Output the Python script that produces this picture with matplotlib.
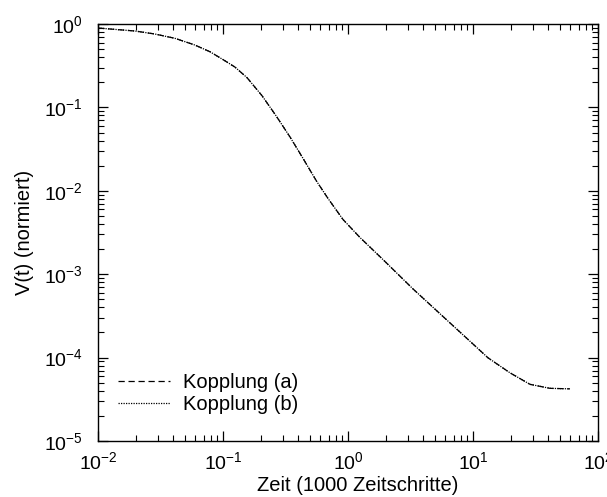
import matplotlib
matplotlib.use("Agg")
import matplotlib.pyplot as plt
from matplotlib.ticker import LogLocator, NullFormatter

plt.rcParams['font.family'] = ['Liberation Sans', 'DejaVu Sans']
plt.rcParams['mathtext.fontset'] = 'custom'
plt.rcParams['mathtext.rm'] = 'Liberation Sans'
plt.rcParams['mathtext.it'] = 'Liberation Sans'
plt.rcParams['mathtext.default'] = 'regular'

# Time (in 1000 steps)
t = [0.01, 0.01977, 0.02858, 0.0413, 0.0597, 0.0787, 0.1, 0.1247, 0.1556, 0.2051,
     0.2655, 0.3436, 0.4365, 0.5617, 0.6918, 0.912, 1.247, 1.905, 3.311, 5.754,
     9.462, 13.18, 19.77, 28.58, 41.3, 59.7]
# Normalized V(t), coupling (a)
v_a = [0.895, 0.824, 0.758, 0.673, 0.559, 0.465, 0.3745, 0.3042, 0.2275, 0.1382,
       0.0795, 0.0442, 0.0245, 0.01297, 0.0081, 0.00453, 0.002754, 0.001498,
       6.66e-4, 3.11e-4, 1.57e-4, 9.94e-5, 6.57e-5, 4.78e-5, 4.28e-5, 4.22e-5]
# Normalized V(t), coupling (b)
v_b = [0.895, 0.824, 0.758, 0.673, 0.559, 0.465, 0.3745, 0.3042, 0.2275, 0.1382,
       0.0795, 0.0442, 0.0245, 0.01297, 0.0081, 0.00453, 0.002754, 0.001498,
       6.66e-4, 3.11e-4, 1.57e-4, 9.94e-5, 6.57e-5, 4.78e-5, 4.28e-5, 4.22e-5]

labels = ["Kopplung (a)", "Kopplung (b)"]

W, H = 607, 497
fig = plt.figure(figsize=(W / 100, H / 100), dpi=100)
ax = fig.add_axes([98 / W, 1 - 441 / H, 500 / W, 417 / H])

ax.plot(t, v_a, color='black', linestyle=(0, (5, 3)), linewidth=0.9, label=labels[0])
ax.plot(t, v_b, color='black', linestyle=(0, (1, 1)), linewidth=0.9, label=labels[1])

ax.set_xscale('log')
ax.set_yscale('log')
ax.set_xlim(1e-2, 1e2)
ax.set_ylim(1e-5, 1e0)

ax.xaxis.set_major_locator(LogLocator(base=10, numticks=10))
ax.yaxis.set_major_locator(LogLocator(base=10, numticks=10))
ax.xaxis.set_minor_locator(LogLocator(base=10, subs=range(2, 10), numticks=20))
ax.yaxis.set_minor_locator(LogLocator(base=10, subs=range(2, 10), numticks=20))
ax.xaxis.set_minor_formatter(NullFormatter())
ax.yaxis.set_minor_formatter(NullFormatter())

ax.tick_params(which='both', direction='in', top=True, right=True, labelsize=14)
ax.tick_params(axis='y', pad=11)
ax.tick_params(axis='x', pad=7)
ax.tick_params(which='major', length=7, width=0.9)
ax.tick_params(which='minor', length=4, width=0.8)
for s in ax.spines.values():
    s.set_linewidth(1.0)

ax.set_xlabel("Zeit (1000 Zeitschritte)", fontsize=14.5)
ax.xaxis.label.set_verticalalignment('center')
ax.xaxis.set_label_coords(0.52, -0.106)
ax.set_ylabel("V(t) (normiert)", fontsize=14.5, labelpad=7)

fig.legend(loc='lower left', frameon=False, fontsize=14.5, handlelength=2.6,
           handletextpad=0.65, labelspacing=0.15, borderpad=0, borderaxespad=0,
           bbox_to_anchor=(118 / W, 1 - 414 / H))

fig.savefig("out.png", dpi=100)
